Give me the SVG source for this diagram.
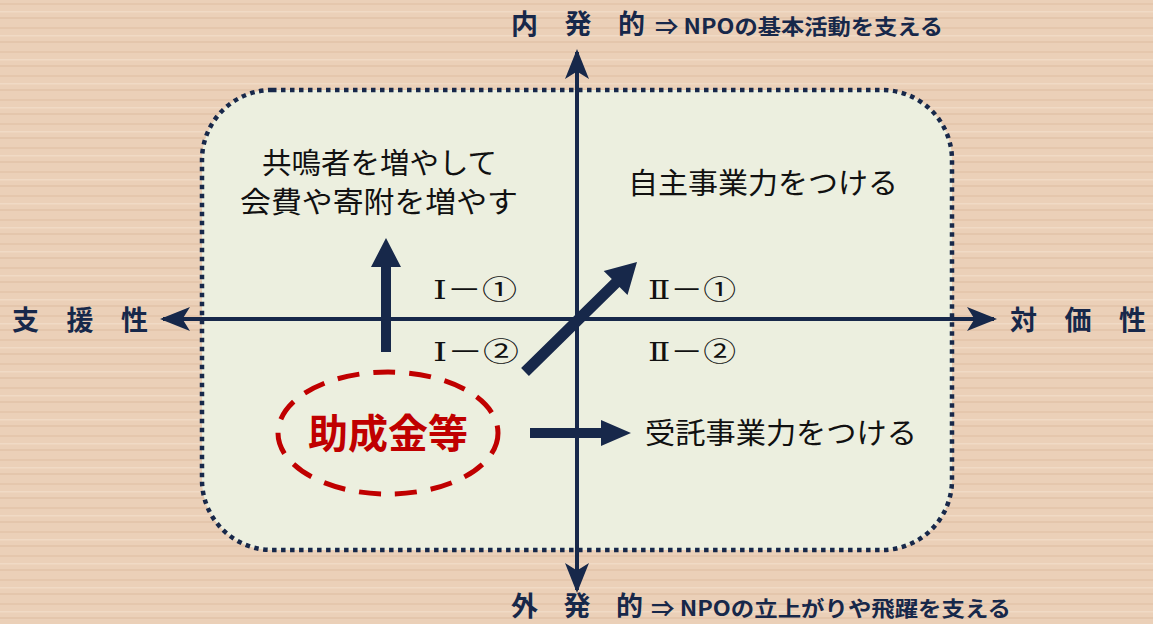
<svg xmlns="http://www.w3.org/2000/svg" width="1153" height="624" viewBox="0 0 1153 624">
<defs>
<pattern id="wood" x="0" y="0" width="1153" height="24" patternUnits="userSpaceOnUse">
<rect width="1153" height="24" fill="#ebd0b8"/>
<rect y="3" width="1153" height="2" fill="#e3c4a9" opacity="0.7"/>
<rect y="11" width="1153" height="1.5" fill="#f1dcc8" opacity="0.8"/>
<rect y="17" width="1153" height="2" fill="#e0c0a4" opacity="0.6"/>
</pattern>
<marker id="ah" viewBox="0 0 10 10" refX="9" refY="5" markerWidth="7.5" markerHeight="7.5" orient="auto" markerUnits="strokeWidth">
<path d="M0,1 L10,5 L0,9 L2.5,5 Z" fill="#17284a"/>
</marker>
</defs>
<style>
.axis{stroke:#17284a;stroke-width:4;fill:none}
.big{fill:#17284a;stroke:none}
.ax{font-family:"Noto Sans CJK JP",sans-serif;font-weight:bold;fill:#17284a;font-size:27px}
.sub{font-family:"Noto Sans CJK JP",sans-serif;font-weight:bold;fill:#17284a;font-size:21px}
.t{font-family:"Noto Sans CJK JP",sans-serif;fill:#111;font-size:29px}
.q{font-family:"DejaVu Serif","Noto Sans CJK JP",serif;fill:#111;font-size:26px}
</style>
<rect width="1153" height="624" fill="url(#wood)"/>
<g id="frame">
<rect x="202" y="90" width="750" height="460" rx="70" ry="70" fill="#ecefdf" stroke="#17284a" stroke-width="4.5" stroke-dasharray="4.5 4.5"/>
</g>
<g id="connectors">
<line class="axis" x1="577" y1="320" x2="577" y2="52" marker-end="url(#ah)"/>
<line class="axis" x1="577" y1="300" x2="577" y2="590" marker-end="url(#ah)"/>
<line class="axis" x1="577" y1="319" x2="163" y2="319" marker-end="url(#ah)"/>
<line class="axis" x1="577" y1="319" x2="994" y2="319" marker-end="url(#ah)"/>
<polygon class="big" points="381,352 381,267 371,267 386,238 401,267 391,267 391,352"/>
<polygon class="big" points="521.1,368.1 611.8,279.1 603.7,270.9 637,262 627.5,295.1 619.5,286.9 528.9,375.9"/>
<polygon class="big" points="530,428 601,428 601,420 631,433 601,446 601,438 530,438"/>
</g>
<g id="axis-labels">
<text class="ax" x="12" y="330" textLength="136" lengthAdjust="spacing">支 援 性</text>
<text class="ax" x="1010" y="330" textLength="136" lengthAdjust="spacing">対 価 性</text>
<text class="ax" x="511" y="34" textLength="134" lengthAdjust="spacing">内 発 的</text>
<text class="sub" x="655" y="34" textLength="288" lengthAdjust="spacingAndGlyphs">⇒ NPOの基本活動を支える</text>
<text class="ax" x="511" y="616" textLength="132" lengthAdjust="spacing">外 発 的</text>
<text class="sub" x="651" y="616" textLength="360" lengthAdjust="spacingAndGlyphs">⇒ NPOの立上がりや飛躍を支える</text>
</g>
<g id="q1">
<text class="t" x="262" y="174" textLength="235" lengthAdjust="spacingAndGlyphs">共鳴者を増やして</text>
<text class="t" x="240" y="213" textLength="278" lengthAdjust="spacingAndGlyphs">会費や寄附を増やす</text>
</g>
<g id="q2"><text class="t" x="628" y="194" textLength="270" lengthAdjust="spacingAndGlyphs">自主事業力をつける</text></g>
<g id="q3"><text class="t" x="645" y="444" textLength="272" lengthAdjust="spacingAndGlyphs">受託事業力をつける</text></g>
<g id="labels">
<text class="q" x="433" y="299" textLength="84" lengthAdjust="spacingAndGlyphs">Ⅰ－①</text>
<text class="q" x="433" y="361" textLength="86" lengthAdjust="spacingAndGlyphs">Ⅰ－②</text>
<text class="q" x="648" y="299" textLength="88" lengthAdjust="spacingAndGlyphs">Ⅱ－①</text>
<text class="q" x="648" y="361" textLength="88" lengthAdjust="spacingAndGlyphs">Ⅱ－②</text>
</g>
<g id="grant">
<ellipse cx="388" cy="433" rx="110" ry="61" fill="none" stroke="#c00000" stroke-width="5" stroke-dasharray="22 14"/>
<text x="388" y="448" text-anchor="middle" font-family="Noto Sans CJK JP,sans-serif" font-weight="bold" font-size="40" fill="#c00000">助成金等</text>
</g>
</svg>
